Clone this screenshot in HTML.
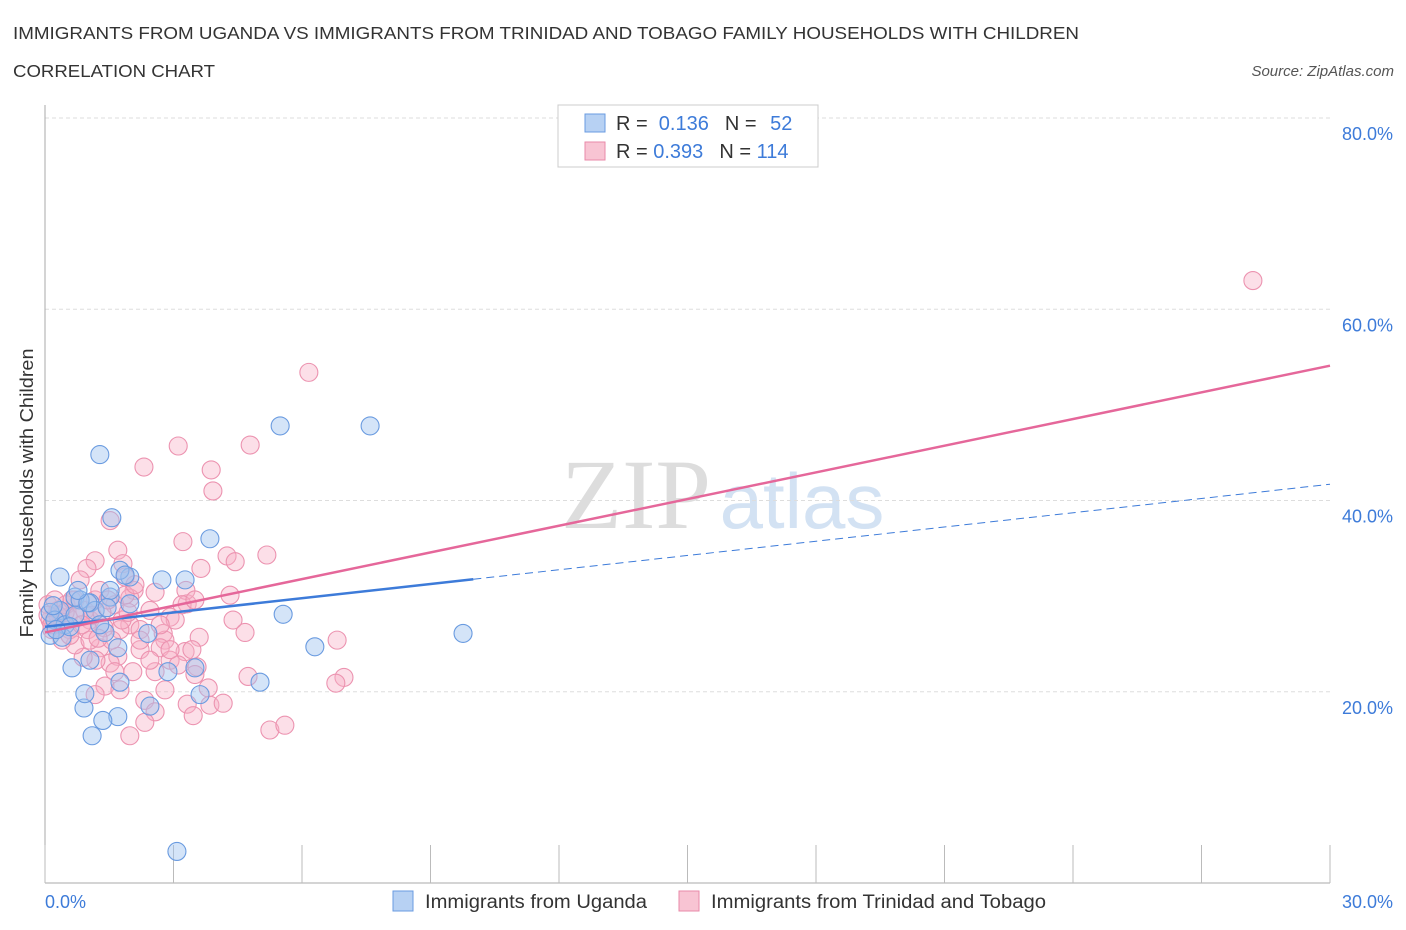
<!DOCTYPE html>
<html><head><meta charset="utf-8"><style>
body{margin:0;background:#fff;font-family:"Liberation Sans",sans-serif}
svg{display:block}
</style></head><body>
<svg id="chart" width="1406" height="930">
<text x="13" y="39" font-size="17.5" fill="#333" textLength="1066" lengthAdjust="spacingAndGlyphs">IMMIGRANTS FROM UGANDA VS IMMIGRANTS FROM TRINIDAD AND TOBAGO FAMILY HOUSEHOLDS WITH CHILDREN</text>
<text x="13" y="77" font-size="17.5" fill="#333" textLength="202" lengthAdjust="spacingAndGlyphs">CORRELATION CHART</text>
<text x="1394" y="76" font-size="15" fill="#555" font-style="italic" text-anchor="end">Source: ZipAtlas.com</text>
<text x="636" y="528" font-size="100" fill="#ddd" font-family="Liberation Serif" text-anchor="middle">ZIP</text>
<text x="802" y="528" font-size="78" fill="#d3e2f3" text-anchor="middle">atlas</text>
<g id="grid"></g><g id="pts"></g><g id="lines"></g>
<text x="33" y="493" font-size="18" fill="#333" text-anchor="middle" textLength="289" lengthAdjust="spacingAndGlyphs" transform="rotate(-90 33 493)">Family Households with Children</text>
<g>
<rect x="558" y="105" width="260" height="62" fill="#fff" stroke="#ccc"/>
<rect x="585" y="114" width="20" height="18" fill="#b7d1f3" stroke="#6a9be0"/>
<text x="616" y="130" font-size="20" fill="#333">R = <tspan fill="#3d7bd9">&#160;0.136</tspan><tspan dx="16">N = </tspan><tspan fill="#3d7bd9" dx="8">52</tspan></text>
<rect x="585" y="142" width="20" height="18" fill="#f8c4d3" stroke="#e98aa8"/>
<text x="616" y="158" font-size="20" fill="#333">R = <tspan fill="#3d7bd9">0.393</tspan><tspan dx="16">N = </tspan><tspan fill="#3d7bd9">114</tspan></text>
</g>
<g>
<rect x="393" y="891" width="20" height="20" fill="#b7d1f3" stroke="#6a9be0"/>
<text x="425" y="908" font-size="19" fill="#333" textLength="222" lengthAdjust="spacingAndGlyphs">Immigrants from Uganda</text>
<rect x="679" y="891" width="20" height="20" fill="#f8c4d3" stroke="#e98aa8"/>
<text x="711" y="908" font-size="19" fill="#333" textLength="335" lengthAdjust="spacingAndGlyphs">Immigrants from Trinidad and Tobago</text>
</g>
</svg>
<script>
const yTicks=[20,40,60,80];
const yTickLabels=["20.0%","40.0%","60.0%","80.0%"];
const xTickCount=10;
const blueX=[0.35,0.7,1.05,1.52,1.28,1.56,1.98,2.73,3.27,3.85,5.49,7.59,9.76,5.56,6.30,5.02,3.62,3.50,2.45,1.75,1.70,1.35,1.10,0.91,0.93,0.63,1.05,2.40,2.87,3.08,1.98,1.70,1.40,1.17,0.82,0.35,0.12,0.23,0.47,0.12,0.40,1.52,1.75,1.28,0.70,0.58,0.26,1.0,1.45,0.77,1.87,0.19];
const blueY=[32.0,29.9,29.3,29.9,44.8,38.2,32.0,31.7,31.7,36.0,47.8,47.8,26.1,28.1,24.7,21.0,19.7,22.5,18.5,21.0,17.4,17.0,15.4,18.3,19.8,22.5,23.3,26.1,22.1,3.3,29.2,24.6,26.2,28.5,29.6,28.5,28.3,27.5,27.0,25.9,25.7,30.6,32.7,27.0,28.0,26.8,26.5,29.3,28.8,30.6,32.2,29.0];
const pinkX=[28.2,6.16,3.11,4.79,2.31,3.88,3.92,1.52,1.70,1.17,0.98,1.82,1.87,3.22,4.25,4.44,5.18,3.64,3.32,2.08,1.98,2.57,2.92,2.76,2.80,2.69,2.22,1.70,1.52,1.28,1.19,1.98,1.75,3.60,4.39,4.67,6.82,3.27,3.43,2.92,2.57,2.05,1.63,3.11,3.55,3.50,4.74,6.98,6.79,3.81,1.40,1.17,0.89,0.70,0.58,1.05,1.38,0.54,0.30,0.12,0.16,0.35,0.07,0.23,0.49,0.70,0.93,1.17,1.28,1.63,0.82,1.0,0.40,2.22,2.45,2.33,2.57,1.98,2.33,3.32,3.46,3.85,4.16,5.25,5.60,1.80,1.56,0.63,0.30,0.47,0.77,1.10,1.33,1.47,1.87,2.10,1.94,0.07,0.16,0.58,0.86,1.05,1.24,2.45,2.80,3.04,3.29,3.20,3.50,4.32,2.69,2.22,2.92,1.75];
const pinkY=[63.0,53.4,45.7,45.8,43.5,43.2,41.0,37.9,34.8,33.7,32.9,33.4,32.0,35.7,34.2,33.6,34.3,32.9,29.2,30.6,29.8,30.4,27.8,26.1,25.4,24.6,24.4,23.7,23.0,24.6,23.3,27.0,26.5,25.7,27.5,26.2,25.4,24.2,24.4,23.3,22.1,22.1,22.1,22.8,22.6,21.8,21.6,21.5,20.9,20.4,20.6,19.7,23.6,24.9,26.5,27.5,26.7,27.8,28.5,27.5,26.5,27.0,29.1,29.6,29.1,29.6,28.5,29.6,30.6,29.1,31.7,26.5,25.4,26.5,28.5,19.1,17.9,15.4,16.8,18.7,17.5,18.6,18.8,16.0,16.5,27.5,25.4,29.6,28.0,28.3,28.0,28.0,28.3,29.6,30.1,31.2,28.3,28.0,27.0,25.9,27.0,25.4,25.6,23.3,20.2,27.5,30.6,29.1,29.6,30.1,27.0,25.4,24.4,20.2];
const blueFit=[26.8,41.7], blueSolidEnd=10;
const pinkFit=[26.2,54.1];
const NS="http://www.w3.org/2000/svg";
const X=v=>45+v*(1285/30), Y=v=>883-v*9.5625;
function mk(tag,attrs,parent){const e=document.createElementNS(NS,tag);for(const k in attrs)e.setAttribute(k,attrs[k]);parent.appendChild(e);return e;}
const grid=document.getElementById('grid');
yTicks.forEach((t,i)=>{
 const l=mk('line',{x1:45,x2:1330,y1:Y(t),y2:Y(t),stroke:'#ddd','stroke-dasharray':'4,3'},grid);
 
 
 const tx=mk('text',{x:1393,y:Y(t)+22,'font-size':18,fill:'#3d7bd9','text-anchor':'end'},grid);
 tx.textContent=yTickLabels[i];
 
 
});
const ax=mk('line',{x1:45,x2:45,y1:105,y2:883,stroke:'#aaa'},grid);


const bx=mk('line',{x1:45,x2:1330,y1:883,y2:883,stroke:'#aaa'},grid);


for(let i=0;i<=xTickCount;i++){const v=30*i/xTickCount;
 const t=mk('line',{x1:X(v),x2:X(v),y1:845,y2:883,stroke:'#bbb'},grid);
 
 }
const x0=mk('text',{x:45,y:908,'font-size':18,fill:'#3d7bd9'},grid);x0.textContent='0.0%';


const x1=mk('text',{x:1393,y:908,'font-size':18,fill:'#3d7bd9','text-anchor':'end'},grid);x1.textContent='30.0%';


const pts=document.getElementById('pts');
pinkX.forEach((v,i)=>{const c=mk('circle',{cx:X(v),cy:Y(pinkY[i]),r:9,fill:'rgba(248,175,198,0.4)',stroke:'#ec93b0','stroke-width':1.1},pts);
 
 });
blueX.forEach((v,i)=>{const c=mk('circle',{cx:X(v),cy:Y(blueY[i]),r:9,fill:'rgba(160,196,240,0.45)',stroke:'#6a9be0','stroke-width':1.1},pts);
 
 });
const lines=document.getElementById('lines');
const by=v=>blueFit[0]+(blueFit[1]-blueFit[0])*v/30;
const b1=mk('line',{x1:X(0),y1:Y(by(0)),x2:X(blueSolidEnd),y2:Y(by(blueSolidEnd)),stroke:'#3d7bd9','stroke-width':2.5},lines);


const b2=mk('line',{x1:X(blueSolidEnd),y1:Y(by(blueSolidEnd)),x2:X(30),y2:Y(by(30)),stroke:'#3d7bd9','stroke-width':1,'stroke-dasharray':'8,5'},lines);


const p1=mk('line',{x1:X(0),y1:Y(pinkFit[0]),x2:X(30),y2:Y(pinkFit[1]),stroke:'#e5679a','stroke-width':2.5},lines);


</script>
</body></html>
